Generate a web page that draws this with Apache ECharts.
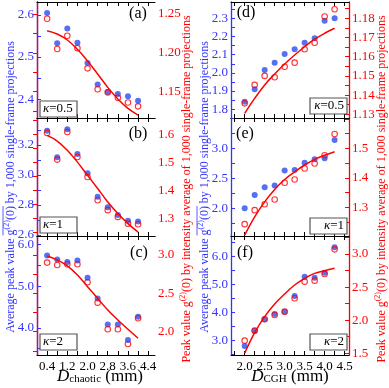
<!DOCTYPE html>
<html>
<head>
<meta charset="utf-8">
<script src="https://cdn.jsdelivr.net/npm/echarts@6.0.0/dist/echarts.min.js"></script>
<style>
html, body { margin: 0; padding: 0; background: #fff; }
#chart { width: 389px; height: 388px; }
</style>
</head>
<body>
<div id="chart"></div>
<script>
// x values (mm)
var xChaotic = [0.4, 0.8, 1.2, 1.6, 2.0, 2.4, 2.8, 3.2, 3.6, 4.0];
var xCGH = [2.0, 2.25, 2.5, 2.75, 3.0, 3.25, 3.5, 3.75, 4.0, 4.25];

// x ticks / labels
var xChaoticTicks = [0.4, 0.8, 1.2, 1.6, 2.0, 2.4, 2.8, 3.2, 3.6, 4.0, 4.4];
var xChaoticLabels = [0.4, 1.2, 2.0, 2.8, 3.6, 4.4];
var xCGHTicks = [1.75, 2.0, 2.25, 2.5, 2.75, 3.0, 3.25, 3.5, 3.75, 4.0, 4.25, 4.5];
var xCGHLabels = [2.0, 2.5, 3.0, 3.5, 4.0, 4.5];

// (a) kappa=0.5, chaotic
var aBlue = [2.605, 2.533, 2.568, 2.534, 2.486, 2.435, 2.417, 2.412, 2.407, 2.396];
var aRed = [1.244, 1.205, 1.222, 1.206, 1.180, 1.153, 1.149, 1.142, 1.136, 1.131];
var aFit = [1.2285, 1.2242, 1.2165, 1.2045, 1.1894, 1.1727, 1.1555, 1.1405, 1.1284, 1.1198];
var aBlueTicks = [2.4, 2.45, 2.5, 2.55, 2.6];
var aBlueLabels = [2.4, 2.5, 2.6];
var aRedTicks = [1.125, 1.15, 1.175, 1.2, 1.225, 1.25];
var aRedLabels = [1.15, 1.2, 1.25];

// (b) kappa=1, chaotic
var bBlue = [3.295, 3.118, 3.305, 3.140, 3.011, 2.855, 2.785, 2.733, 2.695, 2.689];
var bRed = [1.605, 1.510, 1.608, 1.519, 1.448, 1.365, 1.330, 1.306, 1.282, 1.280];
var bFit = [1.596, 1.576, 1.543, 1.501, 1.454, 1.407, 1.359, 1.318, 1.282, 1.252];
var bBlueTicks = [2.6, 2.7, 2.8, 2.9, 3.0, 3.1, 3.2, 3.3];
var bBlueLabels = [2.6, 2.8, 3.0, 3.2];
var bRedTicks = [1.25, 1.3, 1.35, 1.4, 1.45, 1.5, 1.55, 1.6, 1.65];
var bRedLabels = [1.3, 1.4, 1.5, 1.6];

// (c) kappa=2, chaotic
var cBlue = [5.736, 5.64, 5.576, 5.616, 5.20, 4.70, 4.08, 4.08, 3.705, 4.266];
var cRed = [2.90, 2.87, 2.879, 2.879, 2.644, 2.378, 2.031, 2.031, 1.84, 2.175];
var cFit = [2.987, 2.935, 2.857, 2.739, 2.587, 2.435, 2.283, 2.153, 2.031, 1.914];
var cBlueTicks = [3.5, 4.0, 4.5, 5.0, 5.5, 6.0];
var cBlueLabels = [4.0, 5.0, 6.0];
var cRedTicks = [1.75, 2.0, 2.25, 2.5, 2.75, 3.0];
var cRedLabels = [2.0, 2.5, 3.0];

// (d) kappa=0.5, CGH
var dBlue = [1.842, 1.910, 2.016, 2.056, 2.104, 2.130, 2.166, 2.190, 2.287, 2.300];
var dRed = [1.1357, 1.1453, 1.150, 1.1493, 1.1548, 1.1569, 1.1639, 1.1673, 1.1809, 1.1847];
var dFit = [1.1305, 1.1383, 1.1453, 1.151, 1.1562, 1.1609, 1.1652, 1.1691, 1.1722, 1.1748];
var dBlueTicks = [1.8, 1.85, 1.9, 1.95, 2.0, 2.05, 2.1, 2.15, 2.2, 2.25, 2.3, 2.35];
var dBlueLabels = [1.8, 1.9, 2.0, 2.1, 2.2, 2.3];
var dRedTicks = [1.13, 1.135, 1.14, 1.145, 1.15, 1.155, 1.16, 1.165, 1.17, 1.175, 1.18, 1.185];
var dRedLabels = [1.13, 1.14, 1.15, 1.16, 1.17, 1.18];

// (e) kappa=1, CGH
var eBlue = [2.00, 2.222, 2.35, 2.378, 2.628, 2.639, 2.761, 2.817, 2.833, 3.139];
var eRed = [1.2435, 1.291, 1.311, 1.327, 1.384, 1.395, 1.432, 1.449, 1.477, 1.549];
var eFit = [1.206, 1.268, 1.319, 1.361, 1.395, 1.421, 1.444, 1.463, 1.477, 1.489];
var eBlueTicks = [1.75, 2.0, 2.25, 2.5, 2.75, 3.0, 3.25, 3.5];
var eBlueLabels = [2.0, 2.5, 3.0];
var eRedTicks = [1.25, 1.3, 1.35, 1.4, 1.45, 1.5, 1.55, 1.6];
var eRedLabels = [1.3, 1.4, 1.5];

// (f) kappa=2, CGH
var fBlue = [2.81, 3.357, 3.762, 3.952, 4.036, 4.595, 5.286, 5.25, 5.429, 6.333];
var fRed = [1.691, 1.842, 2.014, 2.079, 2.129, 2.331, 2.582, 2.597, 2.698, 3.07];
var fFit = [1.50, 1.812, 2.054, 2.245, 2.396, 2.532, 2.633, 2.708, 2.748, 2.784];
var fBlueTicks = [2.5, 3.0, 3.5, 4.0, 4.5, 5.0, 5.5, 6.0, 6.5];
var fBlueLabels = [3.0, 4.0, 5.0, 6.0];
var fRedTicks = [1.5, 1.75, 2.0, 2.25, 2.5, 2.75, 3.0, 3.25];
var fRedLabels = [1.5, 2.0, 2.5, 3.0];

var BLUE = '#3333ff';
var DOT_BLUE = '#2b4cf0';
var RED = '#ff0000';
var SERIF = '"Liberation Serif", "DejaVu Serif", serif';

// layout
var colLeft = [37, 231];
var colWidth = 118;
var rowTop = [2, 118, 236];
var rowHeight = [116, 118, 119];
var xRange = [[0, 4.67], [1.658, 4.61]];

var panels = [
	{ letter : '(a)', kappa : '0.5', col : 0, row : 0, x : xChaotic, blue : aBlue, red : aRed, fit : aFit,
		blueRange : [2.355, 2.631], blueTicks : aBlueTicks, blueLabels : aBlueLabels, blueDec : 1,
		redRange : [1.116, 1.2655], redTicks : aRedTicks, redLabels : aRedLabels, redDec : 2,
		letterPos : [138, 14], box : [40, 101] },
	{ letter : '(b)', kappa : '1', col : 0, row : 1, x : xChaotic, blue : bBlue, red : bRed, fit : bFit,
		blueRange : [2.593, 3.38], blueTicks : bBlueTicks, blueLabels : bBlueLabels, blueDec : 1,
		redRange : [1.238, 1.658], redTicks : bRedTicks, redLabels : bRedLabels, redDec : 1,
		letterPos : [138, 134], box : [40, 217] },
	{ letter : '(c)', kappa : '2', col : 0, row : 2, x : xChaotic, blue : cBlue, red : cRed, fit : cFit,
		blueRange : [3.346, 6.203], blueTicks : cBlueTicks, blueLabels : cBlueLabels, blueDec : 1,
		redRange : [1.696, 3.247], redTicks : cRedTicks, redLabels : cRedLabels, redDec : 1,
		letterPos : [139, 253], box : [40, 334] },
	{ letter : '(d)', kappa : '0.5', col : 1, row : 0, x : xCGH, blue : dBlue, red : dRed, fit : dFit,
		blueRange : [1.752, 2.3896], blueTicks : dBlueTicks, blueLabels : dBlueLabels, blueDec : 1,
		redRange : [1.12807, 1.18849], redTicks : dRedTicks, redLabels : dRedLabels, redDec : 2,
		letterPos : [246, 13], box : [310, 98] },
	{ letter : '(e)', kappa : '1', col : 1, row : 1, x : xCGH, blue : eBlue, red : eRed, fit : eFit,
		blueRange : [1.538, 3.505], blueTicks : eBlueTicks, blueLabels : eBlueLabels, blueDec : 1,
		redRange : [1.2033, 1.6033], redTicks : eRedTicks, redLabels : eRedLabels, redDec : 1,
		letterPos : [245, 134], box : [310, 218] },
	{ letter : '(f)', kappa : '2', col : 1, row : 2, x : xCGH, blue : fBlue, red : fRed, fit : fFit,
		blueRange : [2.489, 6.739], blueTicks : fBlueTicks, blueLabels : fBlueLabels, blueDec : 1,
		redRange : [1.474, 3.272], redTicks : fRedTicks, redLabels : fRedLabels, redDec : 1,
		letterPos : [245, 253], box : [310, 334] }
];

function zip(xs, ys) {
	var out = [];
	for (var i = 0; i < xs.length; i++) {
		out.push([ xs[i], ys[i] ]);
	}
	return out;
}

var measureCtx = document.createElement('canvas').getContext('2d');
function textWidth(text, size, italic) {
	measureCtx.font = (italic ? 'italic ' : '') + size + 'px ' + SERIF;
	return measureCtx.measureText(text).width;
}

function textEl(text, x, y, size, color, align, italic, z) {
	var font = (italic ? 'italic ' : '') + size + 'px ' + SERIF;
	return {
		type : 'text', x : x, y : y, silent : true, z : z || 5,
		style : { text : text, font : font, fill : color,
			align : align, textAlign : align,
			verticalAlign : 'middle', textVerticalAlign : 'middle' }
	};
}

// rotated axis title made of pieces, optional overline over some pieces
function rotatedTitle(cx, cy, parts, color, over) {
	var total = 0;
	parts.forEach(function(p) { total += textWidth(p[0], p[1]); });
	var cursor = -total / 2;
	var children = [];
	var ox1 = 0, ox2 = 0;
	parts.forEach(function(p, i) {
		if (over && i === over[0]) ox1 = cursor;
		children.push(textEl(p[0], cursor, p[2], p[1], color, 'left'));
		cursor += textWidth(p[0], p[1]);
		if (over && i === over[1]) ox2 = cursor;
	});
	if (over) {
		children.push({ type : 'line', silent : true, z : 5,
			shape : { x1 : ox1, y1 : -8, x2 : ox2, y2 : -8 },
			style : { stroke : color, lineWidth : 0.8 } });
	}
	return { type : 'group', x : cx, y : cy, rotation : Math.PI / 2, children : children };
}

// x axis title: italic D + small subscript + (mm)
function xTitle(cx, cy, sub) {
	var w1 = textWidth('D', 17, true), w2 = textWidth(sub, 11), w3 = textWidth(' (mm)', 17);
	var x0 = cx - (w1 + w2 + w3) / 2;
	return { type : 'group', children : [
		textEl('D', x0, cy, 17, '#000', 'left', true),
		textEl(sub, x0 + w1, cy + 2.5, 11, '#000', 'left'),
		textEl(' (mm)', x0 + w1 + w2, cy, 17, '#000', 'left')
	] };
}

var grids = [], xAxes = [], yAxes = [], series = [], graphics = [];

panels.forEach(function(p, i) {
	var bottomRow = p.row === 2;
	var xt = p.col === 0 ? xChaoticTicks : xCGHTicks;
	var xl = p.col === 0 ? xChaoticLabels : xCGHLabels;
	grids.push({ left : colLeft[p.col], top : rowTop[p.row], width : colWidth,
		height : rowHeight[p.row], containLabel : false, outerBoundsMode : 'none' });

	['bottom', 'top'].forEach(function(pos) {
		xAxes.push({
			type : 'value', gridIndex : i, position : pos,
			min : xRange[p.col][0], max : xRange[p.col][1],
			axisLine : { show : true, onZero : false, lineStyle : { color : '#000', width : 1 } },
			axisTick : { show : true, inside : true, length : 4, customValues : xt,
				lineStyle : { color : '#000', width : 1 } },
			axisLabel : { show : bottomRow && pos === 'bottom', customValues : xl,
				formatter : function(v) { return v.toFixed(1); },
				color : '#000', fontFamily : SERIF, fontSize : 13, margin : 5 },
			splitLine : { show : false }
		});
	});

	[['left', BLUE, p.blueRange, p.blueTicks, p.blueLabels, p.blueDec],
	 ['right', RED, p.redRange, p.redTicks, p.redLabels, p.redDec]].forEach(function(a) {
		yAxes.push({
			type : 'value', gridIndex : i, position : a[0], min : a[2][0], max : a[2][1],
			axisLine : { show : true, lineStyle : { color : a[1], width : 1.3 } },
			axisTick : { show : true, inside : true, length : 4, customValues : a[3],
				lineStyle : { color : a[1], width : 1 } },
			axisLabel : { customValues : a[4],
				formatter : (function(dec) { return function(v) { return v.toFixed(dec); }; })(a[5]),
				color : a[1], fontFamily : SERIF, fontSize : 13, margin : 3 },
			splitLine : { show : false }
		});
	});

	series.push({ type : 'scatter', xAxisIndex : 2 * i, yAxisIndex : 2 * i, silent : true,
		data : zip(p.x, p.blue), symbol : 'circle', symbolSize : 6,
		itemStyle : { color : DOT_BLUE }, z : 2 });
	series.push({ type : 'scatter', xAxisIndex : 2 * i, yAxisIndex : 2 * i + 1, silent : true,
		data : zip(p.x, p.red), symbol : 'circle', symbolSize : 5.5,
		itemStyle : { color : 'rgba(255,255,255,0)', borderColor : RED, borderWidth : 1.1 }, z : 3 });
	series.push({ type : 'line', xAxisIndex : 2 * i, yAxisIndex : 2 * i + 1, silent : true,
		data : zip(p.x, p.fit), smooth : 0.4, showSymbol : false, symbol : 'none',
		lineStyle : { color : RED, width : 1.5 }, z : 4 });

	// panel letter
	graphics.push(textEl(p.letter, p.letterPos[0], p.letterPos[1], 16, '#000', 'center'));

	// kappa box
	var bx = p.box[0], by = p.box[1], bw = 37, bh = 16;
	var kw = textWidth('\u03ba', 13, true) + textWidth('=' + p.kappa, 13);
	var kx = p.col === 0 ? bx + 3 : bx + bw - 3 - kw;
	graphics.push({ type : 'rect', silent : true, z : 10,
		shape : { x : bx, y : by, width : bw, height : bh },
		style : { fill : '#fff', stroke : '#555', lineWidth : 1.2 } });
	graphics.push(textEl('\u03ba', kx, by + bh / 2, 13, '#000', 'left', true, 20));
	graphics.push(textEl('=' + p.kappa, kx + textWidth('\u03ba', 13, true), by + bh / 2, 13,
		'#000', 'left', false, 20));
});

// axis titles
var blueParts = [ ['Average peak value ', 12, 0], ['g', 12, 0], ['(2)', 8, -4], ['(0)', 12, 0],
	[' by 1,000 single-frame projections', 12, 0] ];
var redParts = [ ['Peak value g', 12, 0], ['(2)', 8, -4],
	['(0) by intensity average of 1,000 single-frame projections', 12, 0] ];

graphics.push(rotatedTitle(11, 187, blueParts, BLUE, [1, 3]));
graphics.push(rotatedTitle(205, 187, blueParts, BLUE, [1, 3]));
graphics.push(rotatedTitle(187, 189, redParts, RED));
graphics.push(rotatedTitle(382, 189, redParts, RED));
graphics.push(xTitle(100, 377, 'chaotic'));
graphics.push(xTitle(290, 377, 'CGH'));

var chart = echarts.init(document.getElementById('chart'));
chart.setOption({
	animation : false,
	backgroundColor : '#fff',
	grid : grids,
	xAxis : xAxes,
	yAxis : yAxes,
	series : series,
	graphic : { elements : graphics }
});
</script>
</body>
</html>
